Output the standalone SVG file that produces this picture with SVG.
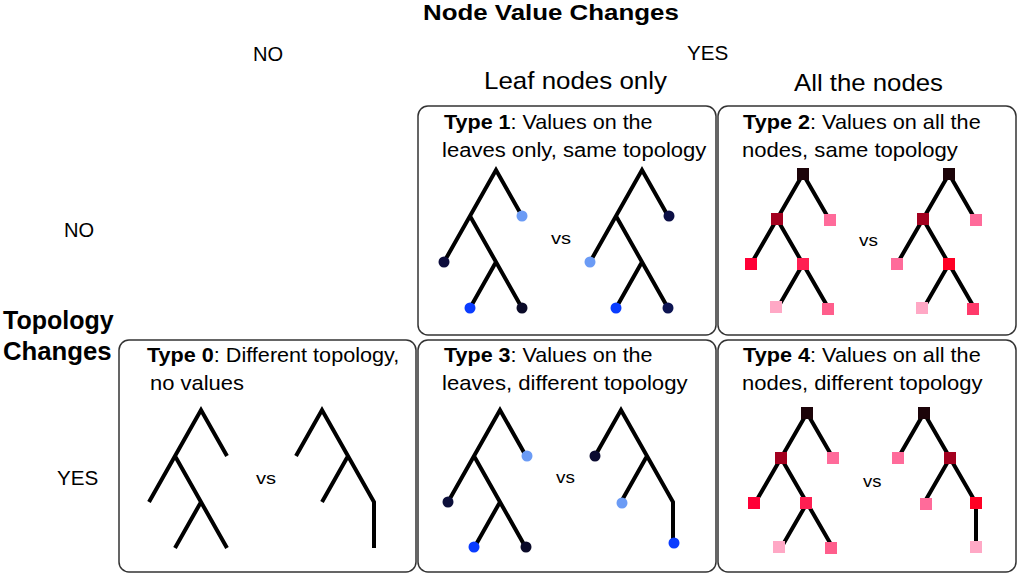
<svg xmlns="http://www.w3.org/2000/svg" width="1018" height="575" viewBox="0 0 1018 575">
<style>
text{font-family:"Liberation Sans",Arial,sans-serif;fill:#000}
.b{font-weight:bold}
.hdr{font-size:19.5px}
.sub{font-size:24px}
.ttl{font-size:20px}
.vs{font-size:16.5px}
.box{fill:#fff;stroke:#333;stroke-width:1.5}
.edge{fill:none;stroke:#000;stroke-width:4;stroke-linejoin:miter;stroke-linecap:butt}
.c{stroke:none}
</style>
<rect x="0" y="0" width="1018" height="575" fill="#fff"/>

<g id="headers">
<text class="b" font-size="22.5" transform="translate(423,20) scale(1.15,1)">Node Value Changes</text>
<text class="hdr" transform="translate(253,61) scale(1.03,1)">NO</text>
<text class="hdr" transform="translate(687,60) scale(1.06,1)">YES</text>
<text class="sub" transform="translate(484,88.5) scale(1.08,1)">Leaf nodes only</text>
<text class="sub" transform="translate(794,90.5) scale(1.074,1)">All the nodes</text>
<text class="hdr" transform="translate(64,237) scale(1.03,1)">NO</text>
<text class="hdr" transform="translate(57,485) scale(1.06,1)">YES</text>
<text class="b" font-size="25" x="3" y="328.5">Topology</text>
<text class="b" font-size="25" transform="translate(3,360) scale(1.03,1)">Changes</text>
</g>

<!-- Type 1 -->
<g id="type1">
<rect class="box" x="418" y="106" width="298" height="229" rx="10"/>
<text class="ttl" transform="translate(444,129) scale(1.077,1)"><tspan class="b">Type 1</tspan>: Values on the</text>
<text class="ttl" transform="translate(442,157) scale(1.103,1)">leaves only, same topology</text>
<text class="vs" transform="translate(551,243.5) scale(1.22,1)">vs</text>
<g class="connectors">
<path class="edge" d="M444,262 L496,170 L522,216 M470,216 L522,308 M496,262 L470,308"/>
<path class="edge" d="M590,262 L642,170 L668,216 M616,216 L668,308 M642,262 L616,308"/>
</g>
<circle class="c" cx="522" cy="216" r="5.5" fill="#6b9bf5"/>
<circle class="c" cx="444" cy="262" r="5.5" fill="#0c0c3c"/>
<circle class="c" cx="470" cy="308" r="5.5" fill="#0a3cff"/>
<circle class="c" cx="522" cy="308" r="5.5" fill="#0a0a28"/>
<circle class="c" cx="669" cy="216" r="5.5" fill="#0c0f45"/>
<circle class="c" cx="590" cy="262" r="5.5" fill="#6b9bf5"/>
<circle class="c" cx="616" cy="308" r="5.5" fill="#0a3cff"/>
<circle class="c" cx="668" cy="308" r="5.5" fill="#0d1452"/>
</g>

<!-- Type 2 -->
<g id="type2">
<rect class="box" x="718" y="106" width="298" height="229" rx="10"/>
<text class="ttl" transform="translate(743,129) scale(1.084,1)"><tspan class="b">Type 2</tspan>: Values on all the</text>
<text class="ttl" transform="translate(742,157) scale(1.104,1)">nodes, same topology</text>
<text class="vs" transform="translate(859,246) scale(1.15,1)">vs</text>
<g class="connectors">
<path class="edge" d="M751,264 L803,174 L829,219 M777,219 L829,309 M803,264 L777,309"/>
<path class="edge" d="M897,264 L949,174 L975,219 M923,219 L975,309 M949,264 L923,309"/>
</g>
<rect class="c" x="797" y="168" width="12" height="12" fill="#1c0409"/>
<rect class="c" x="771" y="213" width="12" height="12" fill="#a3001f"/>
<rect class="c" x="824" y="214" width="12" height="12" fill="#ff6b9a"/>
<rect class="c" x="745" y="258" width="12" height="12" fill="#ff0036"/>
<rect class="c" x="797" y="258" width="12" height="12" fill="#ff1f52"/>
<rect class="c" x="770" y="301" width="12" height="12" fill="#ffa8c5"/>
<rect class="c" x="822" y="303" width="12" height="12" fill="#ff5e8c"/>
<rect class="c" x="943" y="168" width="12" height="12" fill="#1c0409"/>
<rect class="c" x="917" y="213" width="12" height="12" fill="#a3001f"/>
<rect class="c" x="970" y="214" width="12" height="12" fill="#ff6b9a"/>
<rect class="c" x="891" y="258" width="12" height="12" fill="#ff6b9a"/>
<rect class="c" x="943" y="258" width="12" height="12" fill="#ff0024"/>
<rect class="c" x="916" y="302" width="12" height="12" fill="#ffa8c5"/>
<rect class="c" x="967" y="303" width="12" height="12" fill="#ff3a6a"/>
</g>

<!-- Type 0 -->
<g id="type0">
<rect class="box" x="119" y="340" width="297" height="232" rx="10"/>
<text class="ttl" transform="translate(147,362) scale(1.081,1)"><tspan class="b">Type 0</tspan>: Different topology,</text>
<text class="ttl" transform="translate(150,390) scale(1.098,1)">no values</text>
<text class="vs" transform="translate(256,484) scale(1.22,1)">vs</text>
<g class="connectors">
<path class="edge" d="M149,502 L201,410 L227,456 M175,456 L227,548 M201,502 L175,548"/>
<path class="edge" d="M296,456 L322,410 L374,502 L374,548 M348,456 L322,502"/>
</g>
</g>

<!-- Type 3 -->
<g id="type3">
<rect class="box" x="418" y="340" width="298" height="232" rx="10"/>
<text class="ttl" transform="translate(444,362) scale(1.077,1)"><tspan class="b">Type 3</tspan>: Values on the</text>
<text class="ttl" transform="translate(442,390) scale(1.107,1)">leaves, different topology</text>
<text class="vs" transform="translate(556,483) scale(1.15,1)">vs</text>
<g class="connectors">
<path class="edge" d="M448,502 L500,410 L526,456 M474,456 L526,548 M500,502 L474,548"/>
<path class="edge" d="M595,456 L621,410 L673,502 L673,544 M647,456 L621,502"/>
</g>
<circle class="c" cx="527" cy="456" r="5.5" fill="#6b9bf5"/>
<circle class="c" cx="448" cy="502" r="5.5" fill="#0c0f3a"/>
<circle class="c" cx="474" cy="547" r="5.5" fill="#0a3cff"/>
<circle class="c" cx="526" cy="547" r="5.5" fill="#0a0a28"/>
<circle class="c" cx="595" cy="456" r="5.5" fill="#0a0a30"/>
<circle class="c" cx="622" cy="503" r="5.5" fill="#6b9bf5"/>
<circle class="c" cx="674" cy="543" r="5.5" fill="#0a3cff"/>
</g>

<!-- Type 4 -->
<g id="type4">
<rect class="box" x="718" y="340" width="298" height="232" rx="10"/>
<text class="ttl" transform="translate(743,362) scale(1.084,1)"><tspan class="b">Type 4</tspan>: Values on all the</text>
<text class="ttl" transform="translate(742,390) scale(1.1,1)">nodes, different topology</text>
<text class="vs" transform="translate(863,486.5) scale(1.12,1)">vs</text>
<g class="connectors">
<path class="edge" d="M755,503 L807,413 L833,458 M781,458 L833,548 M807,503 L781,548"/>
<path class="edge" d="M898,458 L924,413 L976,503 L976,548 M950,458 L924,503"/>
</g>
<rect class="c" x="801" y="407" width="12" height="12" fill="#1c0409"/>
<rect class="c" x="775" y="452" width="12" height="12" fill="#a3001f"/>
<rect class="c" x="827" y="452" width="12" height="12" fill="#ff6b9a"/>
<rect class="c" x="748" y="497" width="12" height="12" fill="#ff0036"/>
<rect class="c" x="800" y="497" width="12" height="12" fill="#ff1f52"/>
<rect class="c" x="773" y="541" width="12" height="12" fill="#ffa8c5"/>
<rect class="c" x="825" y="542" width="12" height="12" fill="#ff5e8c"/>
<rect class="c" x="918" y="407" width="12" height="12" fill="#1c0409"/>
<rect class="c" x="892" y="452" width="12" height="12" fill="#ff6b9a"/>
<rect class="c" x="944" y="452" width="12" height="12" fill="#a3001f"/>
<rect class="c" x="920" y="498" width="12" height="12" fill="#ff6b9a"/>
<rect class="c" x="970" y="497" width="12" height="12" fill="#ff0024"/>
<rect class="c" x="970" y="541" width="12" height="12" fill="#ffa8c5"/>
</g>
</svg>
